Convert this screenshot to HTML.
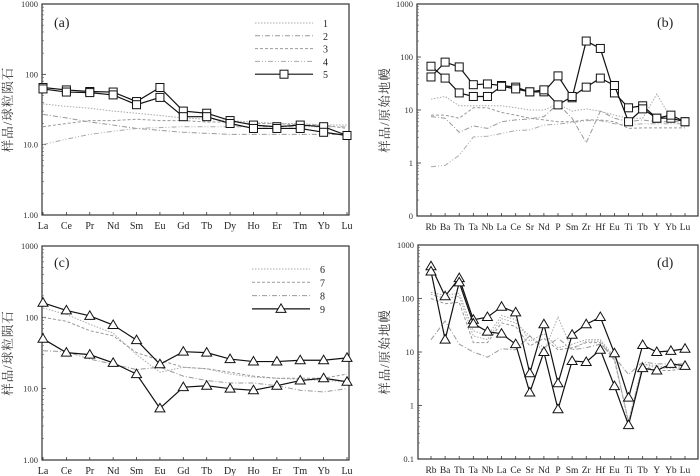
<!DOCTYPE html>
<html><head><meta charset="utf-8"><style>
html,body{margin:0;padding:0;background:#fff;}
svg{display:block;}
text{font-family:"Liberation Serif","Noto Serif CJK SC",serif;}
</style></head>
<body>
<svg id="chart" width="700" height="476" viewBox="0 0 700 476" xmlns="http://www.w3.org/2000/svg"></svg>
<script>
const reeCats = ["La","Ce","Pr","Nd","Sm","Eu","Gd","Tb","Dy","Ho","Er","Tm","Yb","Lu"];
const tmCats = ["Rb","Ba","Th","Ta","Nb","La","Ce","Sr","Nd","P","Sm","Zr","Hf","Eu","Ti","Tb","Y","Yb","Lu"];

const aS1 = [38,35,33,30,28,26,24,23,22,21,20,20,19,19];
const aS2 = [27,24,21,19,17,16,15,14.5,14,14,14,14,14,14];
const aS3 = [18,20,22,22,23,22,22,21,21,20,20,19,19,17];
const aS4 = [10,12,14,15.5,17,17.5,18,18,18,18,18,18,18,18];
const aS5a = [65,60,57,56,41,65,30,28,22,19,18,19,18,13.5];
const aS5b = [62,56,55,51,37,47,25,25,20,17,17,17,15,13.5];

const bG1 = [16,18,12,12,12,12,11,10,10,13,9.5,10.5,9.5,8,7,7,20,7,6];
const bG2 = [8,8,7,11,11,9,8,7,6.5,6,6,6.5,6.5,6,4.5,4.6,4.6,4.6,4.6];
const bG3 = [7.5,7,3.8,5,4.5,6,6.5,6.8,7.5,13,7,2.4,9.5,7,6,6.5,6,6,6];
const bG4 = [0.85,0.9,1.4,3.1,3.2,3.6,4.1,4.2,5.2,5.4,5.8,6.3,6.3,5.5,5.3,5.5,5.5,5.5,5.5];
const bSqA = [42,80,65,30,31,29,27,22,22,44,17,200,145,21,11,12,7,7,6];
const bSqB = [67,40,21,18,18,28,25,22,24,12.5,18,27,40,29,6,10.5,7,8,6];

const cS6 = [135,110,80,60,30,17,20,19,16,14.5,14,13.5,13,12.5];
const cS7 = [100,88,65,55,32,25,20,19,17,15,14,14,14,16];
const cS8 = [34,33,26,22,18.5,20,15,13,12,12,11,9.5,9,10];
const cS9a = [160,125,105,78,48,22,33,32,26,24,24,25,25,27];
const cS9b = [50,32,30,23,16,5.3,10.5,11,10,9.5,11,13,14,12.5];

const dG1 = [130,115,125,25,20,48,40,16,22,12,14,17,17,8,0.45,6,5,5,5.5];
const dG2 = [100,80,85,15,15,35,30,13,18,11,12,15,15,7,0.5,5.5,4.5,4.5,5];
const dG3 = [17,38,14,10,8,11.5,11,20,12,18,11,12,14,8,3.8,6.5,6,6,6];
const dG4 = [120,100,110,20,17,42,35,20,10,45,11,16,16,7.5,0.5,6,5.5,5,5];
const dTrA = [400,110,240,40,45,70,55,4,33,2.6,21,33,45,9.5,1.4,13.5,10,10.5,11.5];
const dTrB = [320,17,200,34,24,22,14,1.75,10,0.85,6.8,6.5,11,2.3,0.43,5,4.5,6,5.5];

const aTicks = ["1.00","10.0","100","1000"];
const bTicks = ["0","1","10","100","1000"];
const dTicks = ["0.1","1","10","100","1000"];

const NS = "http://www.w3.org/2000/svg";
const svg = document.getElementById("chart");
function mk(tag, attrs, parent){
  const e = document.createElementNS(NS, tag);
  for (const k in attrs) e.setAttribute(k, attrs[k]);
  (parent||svg).appendChild(e);
  return e;
}

const styles = {
  dot:{stroke:"#aaa",dash:"1.5,1.5"},
  dashdot:{stroke:"#999",dash:"5,2,1,2"},
  dash:{stroke:"#999",dash:"3,2"},
  dashdotdot:{stroke:"#aaa",dash:"5,2,1,2,1,2"}
};

function panel(p){
  const g = mk("g",{});
  
  
  const decPx = (p.bottom - p.top)/(p.maxLog - p.minLog);
  const y = v => p.bottom - (Math.log10(v) - p.minLog)*decPx;
  const n = p.cats.length;
  const x = i => p.x0 + i*(p.x1 - p.x0)/(n-1);
  const fr = mk("rect",{x:p.left,y:p.top,width:p.right-p.left,height:p.bottom-p.top,fill:"none",stroke:"#333","stroke-width":1.2},g);
  
  
  p.ticks.forEach((t,i)=>{
    const yy = p.bottom - i*decPx;
    const tl = mk("text",{x:p.left-4,y:yy+3,"font-size":8.5,"text-anchor":"end",fill:"#333"},g);
    tl.textContent = t;
    
    
    mk("line",{x1:p.left,x2:p.left+4,y1:yy,y2:yy,stroke:"#333","stroke-width":0.8},g);
    if (i < p.ticks.length-1){
      for (let m=2;m<10;m++){
        const ym = yy - Math.log10(m)*decPx;
        mk("line",{x1:p.left,x2:p.left+2,y1:ym,y2:ym,stroke:"#555","stroke-width":0.6},g);
      }
    }
  });
  p.cats.forEach((c,i)=>{
    const t = mk("text",{x:x(i),y:p.bottom+14,"font-size":p.catFs,"text-anchor":"middle",fill:"#222"},g);
    t.textContent = c;
    
    
    mk("line",{x1:x(i),x2:x(i),y1:p.bottom,y2:p.bottom-3,stroke:"#333","stroke-width":0.8},g);
  });
  const yt = mk("text",{x:p.ytx,y:(p.top+p.bottom)/2,"font-size":12.5,"text-anchor":"middle",fill:"#333",transform:`rotate(-90 ${p.ytx} ${(p.top+p.bottom)/2})`,"font-family":"\"Noto Serif CJK SC\",serif","letter-spacing":"1"},g);
  yt.textContent = p.ytitle;
  
  
  const pl = mk("text",{x:p.lx,y:p.ly,"font-size":14,fill:"#222","font-family":"\"Liberation Sans\",sans-serif"},g);
  pl.textContent = p.label;
  
  
  p.gray.forEach(s=>{
    const st = styles[s.style];
    const pts = s.data.map((v,i)=>x(i)+","+y(v)).join(" ");
    const pl2 = mk("polyline",{points:pts,fill:"none",stroke:st.stroke,"stroke-width":1,"stroke-dasharray":st.dash},g);
    
    
  });
  p.main.forEach(d=>{
    const pts = d.map((v,i)=>x(i)+","+y(v)).join(" ");
    const ln = mk("polyline",{points:pts,fill:"none",stroke:"#111","stroke-width":1.2},g);
    
    
    d.forEach((v,i)=>{
      const mkr = marker(p.marker, x(i), y(v), g);
      
      
    });
  });
  if (p.legend){
    p.legend.forEach((L,i)=>{
      const ly = p.legY + i*p.legDy;
      if (L.style){
        const st = styles[L.style];
        mk("line",{x1:p.legX0,x2:p.legX1,y1:ly,y2:ly,stroke:st.stroke,"stroke-width":1,"stroke-dasharray":st.dash},g);
      } else {
        mk("line",{x1:p.legX0,x2:p.legX1,y1:ly,y2:ly,stroke:"#111","stroke-width":1.2},g);
        marker(p.marker,(p.legX0+p.legX1)/2,ly,g);
      }
      const tt = mk("text",{x:p.legX1+10,y:ly+4,"font-size":10,fill:"#222"},g);
      tt.textContent = L.t;
      
      
    });
  }
}
function marker(type,cx,cy,g){
  if (type==="sq") return mk("rect",{x:cx-4,y:cy-4,width:8,height:8,fill:"#fff",stroke:"#111","stroke-width":1},g);
  return mk("polygon",{points:`${cx},${cy-5} ${cx-5},${cy+3.5} ${cx+5},${cy+3.5}`,fill:"#fff",stroke:"#111","stroke-width":1},g);
}

panel({name:"panel-a-ree",cats:reeCats,left:42,right:349,top:4,bottom:215,minLog:0,maxLog:3,x0:43,x1:347,
  ticks:aTicks,catFs:10,ytitle:"样品/球粒陨石",ytx:12,label:"(a)",lx:54,ly:27,
  gray:[{id:"1",style:"dot",data:aS1},{id:"2",style:"dashdot",data:aS2},{id:"3",style:"dash",data:aS3},{id:"4",style:"dashdotdot",data:aS4}],
  main:[aS5a,aS5b],marker:"sq",
  legend:[{t:"1",style:"dot"},{t:"2",style:"dashdot"},{t:"3",style:"dash"},{t:"4",style:"dashdotdot"},{t:"5"}],
  legX0:255,legX1:313,legY:23,legDy:12.8});

panel({name:"panel-b-spider",cats:tmCats,left:417,right:698,top:4,bottom:216,minLog:-1,maxLog:3,x0:431,x1:685,
  ticks:bTicks,catFs:9.5,ytitle:"样品/原始地幔",ytx:389,label:"(b)",lx:657,ly:27,
  gray:[{id:"g1",style:"dot",data:bG1},{id:"g2",style:"dash",data:bG2},{id:"g3",style:"dashdot",data:bG3},{id:"g4",style:"dashdotdot",data:bG4}],
  main:[bSqA,bSqB],marker:"sq"});

panel({name:"panel-c-ree",cats:reeCats,left:42,right:349,top:246,bottom:460,minLog:0,maxLog:3,x0:43,x1:347,
  ticks:aTicks,catFs:10,ytitle:"样品/球粒陨石",ytx:12,label:"(c)",lx:54,ly:267,
  gray:[{id:"6",style:"dot",data:cS6},{id:"7",style:"dash",data:cS7},{id:"8",style:"dashdot",data:cS8}],
  main:[cS9a,cS9b],marker:"tri",
  legend:[{t:"6",style:"dot"},{t:"7",style:"dash"},{t:"8",style:"dashdot"},{t:"9"}],
  legX0:252,legX1:310,legY:269,legDy:13.3});

panel({name:"panel-d-spider",cats:tmCats,left:418,right:698,top:245,bottom:459,minLog:-1,maxLog:3,x0:431,x1:685,
  ticks:dTicks,catFs:9.5,ytitle:"样品/原始地幔",ytx:389,label:"(d)",lx:657,ly:267,
  gray:[{id:"g1",style:"dot",data:dG1},{id:"g2",style:"dash",data:dG2},{id:"g3",style:"dashdot",data:dG3},{id:"g4",style:"dot",data:dG4}],
  main:[dTrA,dTrB],marker:"tri"});
</script>
</body></html>
